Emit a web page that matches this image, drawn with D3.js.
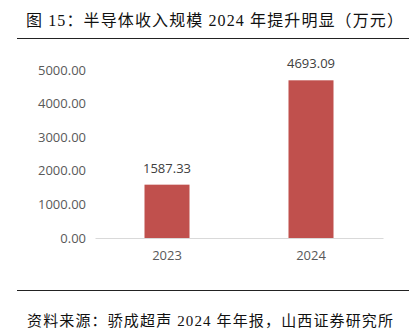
<!DOCTYPE html>
<html><head><meta charset="utf-8">
<script src="https://cdn.jsdelivr.net/npm/d3@7/dist/d3.min.js"></script>
<style>body{margin:0;background:#fff;}svg{display:block;}</style>
</head><body>
<script>
const categories = ["2023", "2024"];
const values = [1587.33, 4693.09];
const valueLabels = ["1587.33", "4693.09"];
const yTicks = [0, 1000, 2000, 3000, 4000, 5000];
const title = "图 15：半导体收入规模 2024 年提升明显（万元）";
const source = "资料来源：骄成超声 2024 年年报，山西证券研究所";

const W = 415, H = 332;
const svg = d3.select("body").append("svg").attr("width", W).attr("height", H);
const sans = "'Open Sans','Noto Sans CJK SC',sans-serif";
const cjk = "'Liberation Serif','Noto Sans CJK SC',serif";

svg.append("text").attr("x", 26).attr("y", 26).attr("font-family", cjk)
  .attr("font-size", 16).attr("fill", "#111").attr("textLength", 377)
  .attr("lengthAdjust", "spacing").text(title);
svg.append("line").attr("x1", 17).attr("x2", 409).attr("y1", 38.5).attr("y2", 38.5)
  .attr("stroke", "#222").attr("stroke-width", 1.2);
svg.append("line").attr("x1", 17).attr("x2", 409).attr("y1", 290.5).attr("y2", 290.5)
  .attr("stroke", "#222").attr("stroke-width", 1.2);
svg.append("text").attr("x", 27).attr("y", 326).attr("font-family", cjk)
  .attr("font-size", 15).attr("fill", "#111").attr("textLength", 366)
  .attr("lengthAdjust", "spacing").text(source);

const y = d3.scaleLinear().domain([0, 5000]).range([238, 70]);
const x = d3.scaleBand().domain(categories).range([95, 383])
  .paddingInner(0.6875).paddingOuter(0.34375);

const yAxis = svg.append("g").attr("transform", "translate(86,0)")
  .call(d3.axisLeft(y).tickValues(yTicks).tickFormat(d3.format(".2f")).tickSize(0).tickPadding(0));
yAxis.select(".domain").remove();
yAxis.selectAll("text").attr("font-family", sans).attr("font-size", 13).attr("fill", "#595959");

svg.selectAll("rect.bar").data(values).join("rect").attr("class", "bar")
  .attr("x", (d, i) => x(categories[i])).attr("width", x.bandwidth())
  .attr("y", d => y(d)).attr("height", d => y(0) - y(d)).attr("fill", "#c0504d");

const xAxis = svg.append("g").attr("transform", `translate(0,${y(0)})`)
  .call(d3.axisBottom(x).tickSize(0).tickPadding(13));
xAxis.select(".domain").attr("stroke", "#d9d9d9").attr("stroke-width", 1.2);
xAxis.selectAll("text").attr("font-family", sans).attr("font-size", 13).attr("fill", "#595959");

svg.selectAll("text.val").data(values).join("text").attr("class", "val")
  .attr("x", (d, i) => x(categories[i]) + x.bandwidth() / 2)
  .attr("y", d => y(d) - 12).attr("text-anchor", "middle")
  .attr("font-family", sans).attr("font-size", 13).attr("fill", "#404040")
  .text((d, i) => valueLabels[i]);
</script>
</body></html>
